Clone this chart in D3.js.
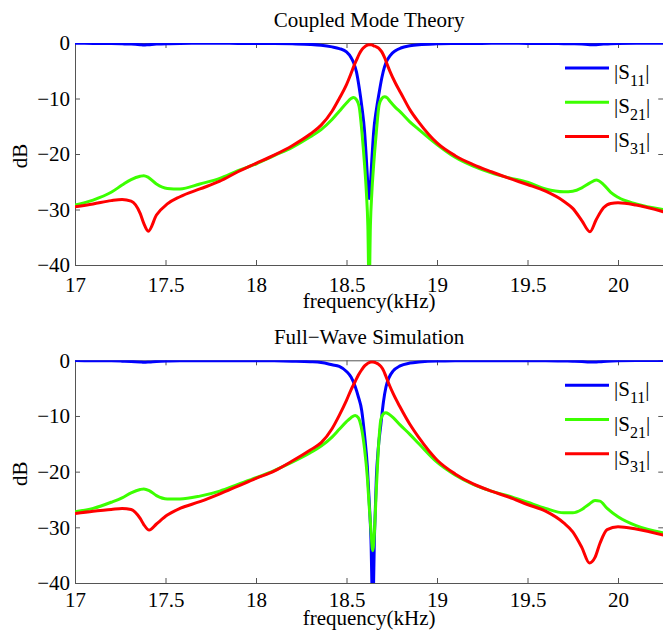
<!DOCTYPE html>
<meta charset="utf-8">
<style>
body { margin: 0; background: #fff; }
text { font-family: "Liberation Serif", "Times New Roman", serif; fill: #000; }
.axis path, .axis line { stroke: #555; stroke-width: 1; }
.axis text { font-size: 21px; font-family: "Liberation Serif", serif; }
.curve { fill: none; stroke-width: 3; stroke-linejoin: round; stroke-linecap: round; }
</style>
<body>
<script src="https://d3js.org/d3.v7.min.js"></script>
<script>

// ---- data (frequency in kHz, magnitude in dB) ----

var xTicks = [17, 17.5, 18, 18.5, 19, 19.5, 20];
var yTicks = [-40, -30, -20, -10, 0];
var seriesNames = ["11", "21", "31"];
var seriesColors = ["#0000ff", "#3cff00", "#ff0000"];

// Coupled Mode Theory
var cmtFreq = [17.0, 17.1, 17.2, 17.26, 17.31, 17.36, 17.38, 17.405, 17.45, 17.51,
	17.58, 17.69, 17.8, 17.9, 18.0, 18.1, 18.2, 18.3, 18.36, 18.42,
	18.46, 18.5, 18.525, 18.54, 18.555, 18.57, 18.585, 18.6, 18.61, 18.618,
	18.625, 18.632, 18.64, 18.65, 18.665, 18.68, 18.695, 18.71, 18.725, 18.74,
	18.77, 18.8, 18.85, 18.9, 19.0, 19.1, 19.2, 19.3, 19.4, 19.5,
	19.6, 19.7, 19.75, 19.8, 19.845, 19.88, 19.92, 19.96, 20.0, 20.1, 20.25];
var cmtS11 = [-0.05, -0.07, -0.1, -0.15, -0.2, -0.3, -0.35, -0.3, -0.2, -0.12,
	-0.08, -0.06, -0.06, -0.07, -0.08, -0.1, -0.15, -0.25, -0.4, -0.7,
	-1.0, -1.6, -2.6, -3.6, -5.2, -8.0, -11.5, -16, -21, -25.5,
	-28, -25.5, -21, -16, -12, -9.0, -6.3, -4.3, -3.1, -2.3,
	-1.4, -0.9, -0.5, -0.3, -0.15, -0.1, -0.08, -0.06, -0.06, -0.07,
	-0.08, -0.12, -0.15, -0.2, -0.3, -0.3, -0.2, -0.12, -0.08, -0.05, -0.04];
var cmtS21 = [-29.2, -28.3, -26.9, -25.6, -24.6, -24.0, -23.9, -24.2, -25.4, -26.2,
	-26.3, -25.4, -24.4, -23.0, -21.8, -20.3, -18.8, -16.9, -15.6, -13.8,
	-12.3, -10.8, -10.0, -9.8, -10.2, -11.5, -16, -22, -27, -33,
	-45, -33, -27, -22, -16, -11.2, -10.0, -9.7, -9.9, -10.5,
	-11.6, -12.5, -14.2, -15.6, -18.3, -20.6, -22.2, -23.4, -24.3, -25.1,
	-26.3, -26.8, -26.7, -26.1, -25.2, -24.7, -25.5, -26.9, -27.8, -29.0, -30.0];
var cmtS31 = [-29.5, -29.0, -28.4, -28.2, -28.5, -30.7, -32.5, -33.9, -31.0, -29.0,
	-27.7, -26.3, -24.9, -23.2, -21.7, -20.2, -18.5, -16.4, -14.8, -12.3,
	-10.0, -7.5, -5.5, -4.2, -3.1, -2.0, -1.2, -0.7, -0.45, -0.35,
	-0.3, -0.3, -0.35, -0.5, -0.7, -1.0, -1.6, -2.6, -3.9, -5.1,
	-7.2, -9.0, -12.0, -14.3, -18.0, -20.3, -21.9, -23.2, -24.4, -25.5,
	-26.7, -28.5, -29.8, -32.0, -34.0, -31.8, -29.7, -28.9, -28.8, -29.2, -30.4];

// Full-Wave Simulation
var fwFreq = [17.0, 17.1, 17.2, 17.26, 17.31, 17.36, 17.38, 17.41, 17.45, 17.51,
	17.58, 17.69, 17.8, 17.9, 18.0, 18.1, 18.2, 18.3, 18.36, 18.42,
	18.46, 18.5, 18.525, 18.548, 18.565, 18.584, 18.6, 18.615, 18.625, 18.635,
	18.645, 18.655, 18.665, 18.675, 18.69, 18.704, 18.718, 18.735, 18.758, 18.796,
	18.85, 18.9, 19.0, 19.1, 19.2, 19.3, 19.4, 19.5, 19.6, 19.7,
	19.75, 19.8, 19.842, 19.873, 19.9, 19.94, 20.0, 20.1, 20.25];
var fwS11 = [-0.05, -0.07, -0.1, -0.15, -0.2, -0.3, -0.35, -0.3, -0.2, -0.12,
	-0.08, -0.06, -0.06, -0.07, -0.08, -0.1, -0.15, -0.25, -0.4, -0.8,
	-1.1, -2.0, -3.0, -4.7, -6.5, -9.0, -13.5, -19, -25, -32,
	-45, -31, -21, -16, -11.5, -7.5, -4.8, -3.1, -1.9, -1.0,
	-0.5, -0.3, -0.12, -0.1, -0.08, -0.06, -0.06, -0.07, -0.08, -0.12,
	-0.15, -0.2, -0.3, -0.3, -0.25, -0.15, -0.08, -0.05, -0.04];
var fwS21 = [-27.2, -26.6, -25.5, -24.7, -23.8, -23.2, -23.1, -23.4, -24.3, -24.9,
	-24.9, -24.4, -23.5, -22.3, -21.1, -19.8, -18.3, -16.6, -15.4, -13.8,
	-12.4, -11.0, -10.3, -9.9, -10.3, -12.4, -16, -21, -26, -30.5,
	-34.2, -30.5, -23, -16.5, -10.6, -9.6, -9.4, -9.7, -10.3, -11.6,
	-13.3, -15.0, -18.3, -20.6, -22.3, -23.5, -24.4, -25.5, -26.6, -27.4,
	-27.4, -26.8, -25.8, -25.2, -25.3, -26.6, -28.1, -29.7, -31.0];
var fwS31 = [-27.5, -27.1, -26.8, -26.6, -26.8, -28.4, -29.5, -30.5, -29.4, -27.8,
	-26.6, -25.4, -24.0, -22.6, -21.2, -19.9, -18.1, -16.1, -14.8, -12.3,
	-9.9, -7.2, -5.3, -3.8, -2.7, -1.7, -1.0, -0.6, -0.4, -0.3,
	-0.3, -0.35, -0.5, -0.65, -1.1, -1.8, -2.9, -4.3, -6.0, -8.4,
	-11.5, -13.9, -17.9, -20.4, -22.2, -23.5, -24.6, -25.9, -27.1, -29.2,
	-30.8, -33.6, -36.4, -35.4, -32.9, -30.4, -29.9, -30.3, -31.4];

// ---- layout ----
var width = 663, height = 632;
var left = 75, right = 663.25;
var serif = '"Liberation Serif", "Times New Roman", serif';

var svg = d3.select("body").append("svg")
	.attr("width", width)
	.attr("height", height);

var x = d3.scaleLinear().domain([17, 20.25]).range([left, right]);

var panels = [
	{ id: "cmt", title: "Coupled Mode Theory", top: 43, bottom: 265,
		titleY: 26.5, tickPad: 12, labelY: 308, freq: cmtFreq,
		series: [cmtS11, cmtS21, cmtS31] },
	{ id: "fw", title: "Full\u2212Wave Simulation", top: 360.3, bottom: 583,
		titleY: 344, tickPad: 9, labelY: 625, freq: fwFreq,
		series: [fwS11, fwS21, fwS31] }
];

panels.forEach(function(p) {
	var y = d3.scaleLinear().domain([-40, 0]).range([p.bottom, p.top]);
	var g = svg.append("g");

	// clip to the axes box
	svg.append("clipPath").attr("id", "clip-" + p.id)
		.append("rect")
		.attr("x", left).attr("y", p.top)
		.attr("width", right - left).attr("height", p.bottom - p.top);

	// box with inward ticks on all sides
	g.append("g").attr("class", "axis")
		.attr("transform", "translate(0," + p.bottom + ")")
		.call(d3.axisBottom(x).tickValues(xTicks).tickSize(-5).tickSizeOuter(0)
			.tickPadding(p.tickPad).tickFormat(d3.format("~g")))
		.attr("font-family", serif).attr("font-size", 21);
	g.append("g").attr("class", "axis")
		.attr("transform", "translate(0," + p.top + ")")
		.call(d3.axisTop(x).tickValues(xTicks).tickSize(-5).tickSizeOuter(0).tickFormat(""));
	g.append("g").attr("class", "axis")
		.attr("transform", "translate(" + left + ",0)")
		.call(d3.axisLeft(y).tickValues(yTicks).tickSize(-5).tickSizeOuter(0)
			.tickPadding(5).tickFormat(d3.format("~g")))
		.attr("font-family", serif).attr("font-size", 21);
	g.append("g").attr("class", "axis")
		.attr("transform", "translate(" + right + ",0)")
		.call(d3.axisRight(y).tickValues(yTicks).tickSize(-5).tickSizeOuter(0).tickFormat(""));

	// curves
	var line = d3.line()
		.x(function(d) { return x(d[0]); })
		.y(function(d) { return y(d[1]); })
		.curve(d3.curveMonotoneX);

	var curves = g.append("g").attr("clip-path", "url(#clip-" + p.id + ")");
	p.series.forEach(function(vals, i) {
		curves.append("path")
			.attr("class", "curve")
			.attr("stroke", seriesColors[i])
			.attr("d", line(d3.zip(p.freq, vals)));
	});

	// legend
	var lg = g.append("g");
	seriesNames.forEach(function(name, i) {
		var ly = p.top + 25 + i * 34.2;
		lg.append("line")
			.attr("x1", 565).attr("x2", 609)
			.attr("y1", ly).attr("y2", ly)
			.attr("stroke", seriesColors[i])
			.attr("stroke-width", 3);
		var t = lg.append("text")
			.attr("x", 614).attr("y", ly + 11)
			.style("font-size", "21px");
		t.append("tspan").text("|S");
		t.append("tspan").attr("dy", 7).style("font-size", "16px").text(name);
		t.append("tspan").attr("dy", -7).text("|");
	});

	// titles
	g.append("text")
		.attr("x", (left + right) / 2).attr("y", p.titleY)
		.attr("text-anchor", "middle")
		.style("font-size", "21px")
		.text(p.title);
	g.append("text")
		.attr("x", (left + right) / 2).attr("y", p.labelY)
		.attr("text-anchor", "middle")
		.style("font-size", "21px")
		.text("frequency(kHz)");
	g.append("text")
		.attr("transform", "translate(27," + ((p.top + p.bottom) / 2 + 2) + ") rotate(-90)")
		.attr("text-anchor", "middle")
		.style("font-size", "21px")
		.text("dB");
});

</script>
</body>
